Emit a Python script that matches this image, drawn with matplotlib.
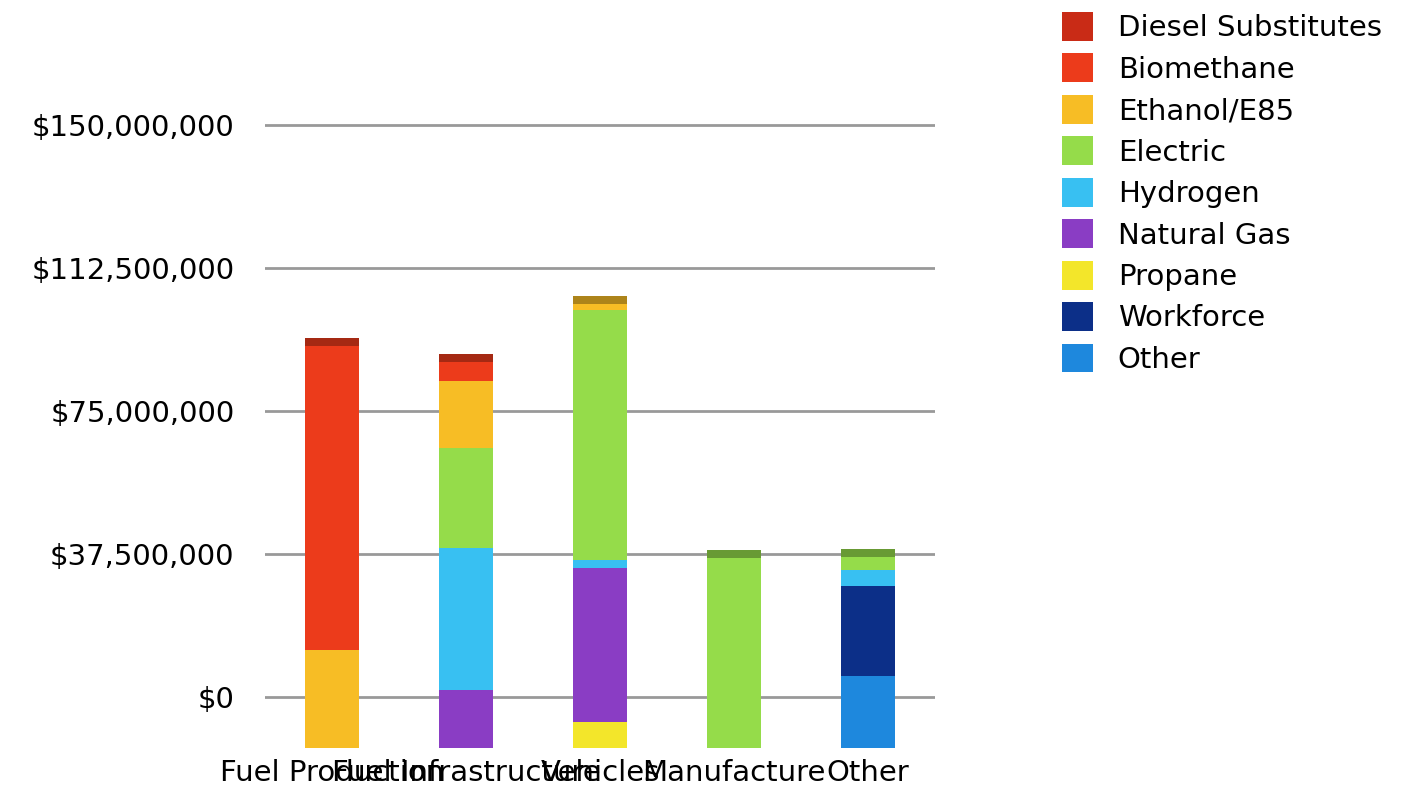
import matplotlib
matplotlib.use('Agg')
import matplotlib.pyplot as plt
import matplotlib.colors as mcolors
from matplotlib.patches import Patch
import numpy as np

plt.rcParams['font.family'] = ['DejaVu Sans']

categories = ['Fuel Production', 'Fuel Infrastructure', 'Vehicles', 'Manufacture', 'Other']
series = ['Diesel Substitutes', 'Biomethane', 'Ethanol/E85', 'Electric', 'Hydrogen',
          'Natural Gas', 'Propane', 'Workforce', 'Other']
colors = ['#c92b16', '#ec3b1b', '#f7bd25', '#95dc4a', '#38c0f2',
          '#8a3dc4', '#f3e62a', '#0c2f88', '#1e88dd']

# values in $ millions, per category (order as categories)
diesel     = [0.0, 0.0, 0.0, 0.0, 0.0]
biomethane = [81.8, 7.1, 0.0, 0.0, 0.0]
ethanol    = [25.7, 17.6, 3.7, 0.0, 0.0]
electric   = [0.0, 26.2, 65.6, 51.9, 5.5]
hydrogen   = [0.0, 37.2, 2.1, 0.0, 4.2]
natgas     = [0.0, 15.2, 40.4, 0.0, 0.0]
propane    = [0.0, 0.0, 6.8, 0.0, 0.0]
workforce  = [0.0, 0.0, 0.0, 0.0, 23.6]
other      = [0.0, 0.0, 0.0, 0.0, 18.9]

data = [diesel, biomethane, ethanol, electric, hydrogen, natgas, propane, workforce, other]

ticks = [0, 37.5, 75, 112.5, 150]
tick_labels = ['$0', '$37,500,000', '$75,000,000', '$112,500,000', '$150,000,000']

floor = -13.4  # 3D floor sits below the $0 line

fig = plt.figure(figsize=(14.07, 7.89), dpi=100)
ax = fig.add_axes([265/1407, 1-748/789, 670/1407, (748-100)/789])

x = np.arange(len(categories))
w = 0.41
bottom = np.full(len(categories), floor)
top_color = [None]*len(categories)
# stack from the bottom in reverse legend order
for name, vals, c in reversed(list(zip(series, data, colors))):
    vals = np.array(vals)
    ax.bar(x, vals, w, bottom=bottom, color=c, edgecolor='none', zorder=3)
    for i, v in enumerate(vals):
        if v > 0:
            top_color[i] = c
    bottom = bottom + vals

# darker top face of each box
cap = 2.1
for i in range(len(categories)):
    dark = np.array(mcolors.to_rgb(top_color[i])) * 0.7
    ax.bar(x[i], cap, w, bottom=bottom[i]-cap, color=dark, edgecolor='none', zorder=4)

ax.set_xlim(-0.5, 4.5)
ax.set_ylim(floor, floor + (748-100)/3.813)
ax.set_yticks(ticks)
ax.set_yticklabels(tick_labels, fontsize=21)
ax.set_xticks(x)
ax.set_xticklabels(categories, fontsize=21)
ax.tick_params(axis='y', length=0, pad=22)
ax.tick_params(axis='x', length=0, pad=8)
ax.yaxis.grid(True, color='#999999', linewidth=2, zorder=0)
for s in ax.spines.values():
    s.set_visible(False)

handles = [Patch(facecolor=c, edgecolor='none') for c in colors]
fig.legend(handles, series, loc='upper left', bbox_to_anchor=(1036/1407, 1.018),
           frameon=False, fontsize=21, handlelength=1.05, handleheight=1.15,
           handletextpad=0.85, labelspacing=0.38)

fig.savefig('out.png', dpi=100)
